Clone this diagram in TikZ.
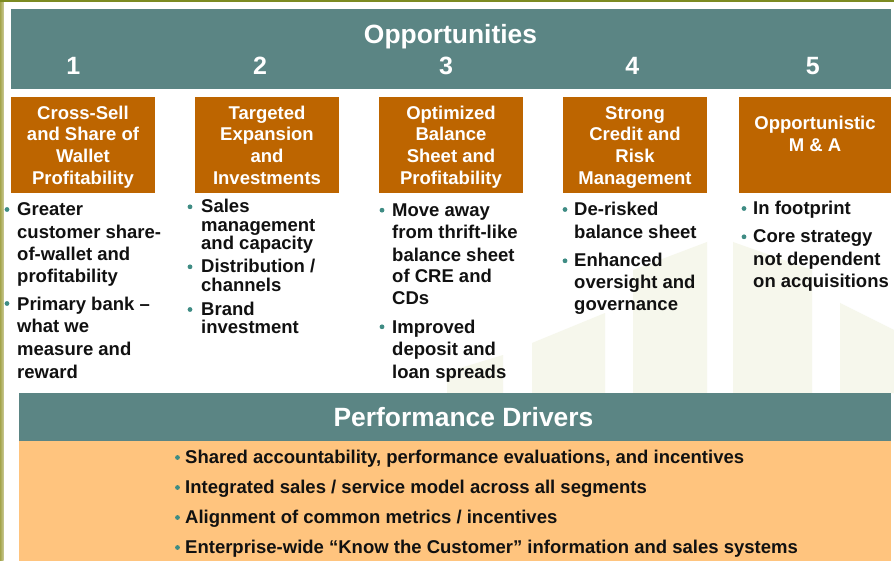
\documentclass[tikz,border=0pt]{standalone}
\usepackage{fontspec}
\setmainfont{Liberation Sans}
\definecolor{bandteal}{RGB}{91,133,132}
\definecolor{boxrust}{RGB}{189,101,0}
\definecolor{driverfill}{RGB}{255,196,126}
\definecolor{dotteal}{RGB}{63,140,132}
\definecolor{inkc}{RGB}{17,17,17}
\definecolor{olivebar}{RGB}{163,164,74}
\definecolor{oliveline}{RGB}{125,139,34}
\definecolor{ghost}{RGB}{246,247,236}
\begin{document}
\begin{tikzpicture}[x=1pt,y=-1pt,
  btxt/.style={anchor=base west, inner sep=0pt, font=\fontsize{18.5}{22}\selectfont\bfseries, text=inkc},
  dtxt/.style={anchor=base west, inner sep=0pt, font=\fontsize{18.5}{22}\selectfont\bfseries, text=inkc},
  htxt/.style={anchor=base, inner sep=0pt, font=\fontsize{18.5}{22}\selectfont\bfseries, text=white},
  numtxt/.style={anchor=base, inner sep=0pt, font=\fontsize{25}{30}\selectfont\bfseries, text=white},
  titletxt/.style={anchor=base, inner sep=0pt, font=\fontsize{26.4}{32}\selectfont\bfseries, text=white},
  obox/.style={fill=boxrust, inner sep=0pt, minimum width=144pt, minimum height=96pt},
  dot/.style={fill=dotteal}]

% page frame
\useasboundingbox (0,0) rectangle (894,561);
\fill[white] (0,0) rectangle (894,561);

% faint building silhouettes in the background
\fill[ghost] (447,393) -- (447,372) -- (503,355) -- (503,393) -- cycle;
\fill[ghost] (532,393) -- (532,343) -- (605,313) -- (605,393) -- cycle;
\fill[ghost] (633,393) -- (633,270) -- (707,242) -- (707,393) -- cycle;
\fill[ghost] (733,393) -- (733,242) -- (812,270) -- (812,393) -- cycle;
\fill[ghost] (840,393) -- (840,303) -- (894,330) -- (894,393) -- cycle;

% olive edge trim
\shade[left color=olivebar, right color=olivebar!60] (0,0) rectangle (3.5,561);
\fill[oliveline] (0,0) rectangle (894,1.8);

% top banner
\node[fill=bandteal, inner sep=0pt, minimum width=880pt, minimum height=80pt] (banner) at (451,49) {};
\node[titletxt] (title) at (450.5,43.5) {Opportunities};
\node[numtxt] (n1) at (73.3,75) {1};
\node[numtxt] (n2) at (260,75) {2};
\node[numtxt] (n3) at (446,75) {3};
\node[numtxt] (n4) at (632.3,75) {4};
\node[numtxt] (n5) at (812.7,75) {5};

% opportunity boxes
\node[obox] (b1) at (83,145) {};
\node[obox] (b2) at (267,145) {};
\node[obox] (b3) at (451,145) {};
\node[obox] (b4) at (635,145) {};
\node[obox, minimum width=152pt] (b5) at (815,145) {};

\node[htxt] (b1a) at (83,119.3) {Cross-Sell};
\node[htxt] (b1b) at (83,141) {and Share of};
\node[htxt] (b1c) at (83,162.7) {Wallet};
\node[htxt] (b1d) at (83,185) {Profitability};

\node[htxt] (b2a) at (267,119.3) {Targeted};
\node[htxt] (b2b) at (267,141) {Expansion};
\node[htxt] (b2c) at (267,162.7) {and};
\node[htxt] (b2d) at (267,185) {Investments};

\node[htxt] (b3a) at (451,119.3) {Optimized};
\node[htxt] (b3b) at (451,141) {Balance};
\node[htxt] (b3c) at (451,162.7) {Sheet and};
\node[htxt] (b3d) at (451,185) {Profitability};

\node[htxt] (b4a) at (635,119.3) {Strong};
\node[htxt] (b4b) at (635,141) {Credit and};
\node[htxt] (b4c) at (635,162.7) {Risk};
\node[htxt] (b4d) at (635,185) {Management};

\node[htxt] (b5a) at (815,130) {Opportunistic};
\node[htxt] (b5b) at (815,151.7) {M \& A};

% column 1
\fill[dot] (7,209.5) circle (2.4pt);
\node[btxt] (c1a) at (17,215.8) {Greater};
\node[btxt] (c1b) at (17,238.5) {customer share-};
\node[btxt] (c1c) at (17,260.7) {of-wallet and};
\node[btxt] (c1d) at (17,283) {profitability};
\fill[dot] (7,303.5) circle (2.4pt);
\node[btxt] (c1e) at (17,310) {Primary bank –};
\node[btxt] (c1f) at (17,332.5) {what we};
\node[btxt] (c1g) at (17,355.5) {measure and};
\node[btxt] (c1h) at (17,378) {reward};

% column 2
\fill[dot] (190,206.8) circle (2.4pt);
\node[btxt] (c2a) at (201,213) {Sales};
\node[btxt] (c2b) at (201,231.7) {management};
\node[btxt] (c2c) at (201,249.7) {and capacity};
\fill[dot] (190,266.8) circle (2.4pt);
\node[btxt] (c2d) at (201,273) {Distribution /};
\node[btxt] (c2e) at (201,291.4) {channels};
\fill[dot] (190,309.5) circle (2.4pt);
\node[btxt] (c2f) at (201,315.7) {Brand};
\node[btxt] (c2g) at (201,333.7) {investment};

% column 3
\fill[dot] (382,210.2) circle (2.4pt);
\node[btxt] (c3a) at (392,216.4) {Move away};
\node[btxt] (c3b) at (392,239) {from thrift-like};
\node[btxt] (c3c) at (392,261.4) {balance sheet};
\node[btxt] (c3d) at (392,283) {of CRE and};
\node[btxt] (c3e) at (392,304.7) {CDs};
\fill[dot] (382,326.8) circle (2.4pt);
\node[btxt] (c3f) at (392,333) {Improved};
\node[btxt] (c3g) at (392,355.4) {deposit and};
\node[btxt] (c3h) at (392,378) {loan spreads};

% column 4
\fill[dot] (565,209.5) circle (2.4pt);
\node[btxt] (c4a) at (574,215.7) {De-risked};
\node[btxt] (c4b) at (574,238.7) {balance sheet};
\fill[dot] (565,260.8) circle (2.4pt);
\node[btxt] (c4c) at (574,267) {Enhanced};
\node[btxt] (c4d) at (574,289) {oversight and};
\node[btxt] (c4e) at (574,310.7) {governance};

% column 5
\fill[dot] (744,208.5) circle (2.4pt);
\node[btxt] (c5a) at (753,214.7) {In footprint};
\fill[dot] (744,236.8) circle (2.4pt);
\node[btxt] (c5b) at (753,243) {Core strategy};
\node[btxt] (c5c) at (753,265.7) {not dependent};
\node[btxt] (c5d) at (753,288) {on acquisitions};

% performance drivers panel
\node[fill=driverfill, inner sep=0pt, minimum width=872pt, minimum height=120pt] (drivers) at (455,501) {};
\node[fill=bandteal, inner sep=0pt, minimum width=872pt, minimum height=48pt] (drvband) at (455,417) {};
\node[titletxt] (drvtitle) at (463.5,426.7) {Performance Drivers};

\fill[dot] (177.5,457.5) circle (2.4pt);
\node[dtxt] (d1) at (185,463.3) {Shared accountability, performance evaluations, and incentives};
\fill[dot] (177.5,487.5) circle (2.4pt);
\node[dtxt] (d2) at (185,493.3) {Integrated sales / service model across all segments};
\fill[dot] (177.5,517.5) circle (2.4pt);
\node[dtxt] (d3) at (185,523.3) {Alignment of common metrics / incentives};
\fill[dot] (177.5,547.5) circle (2.4pt);
\node[dtxt] (d4) at (185,553.3) {Enterprise-wide “Know the Customer” information and sales systems};

\end{tikzpicture}
\end{document}
